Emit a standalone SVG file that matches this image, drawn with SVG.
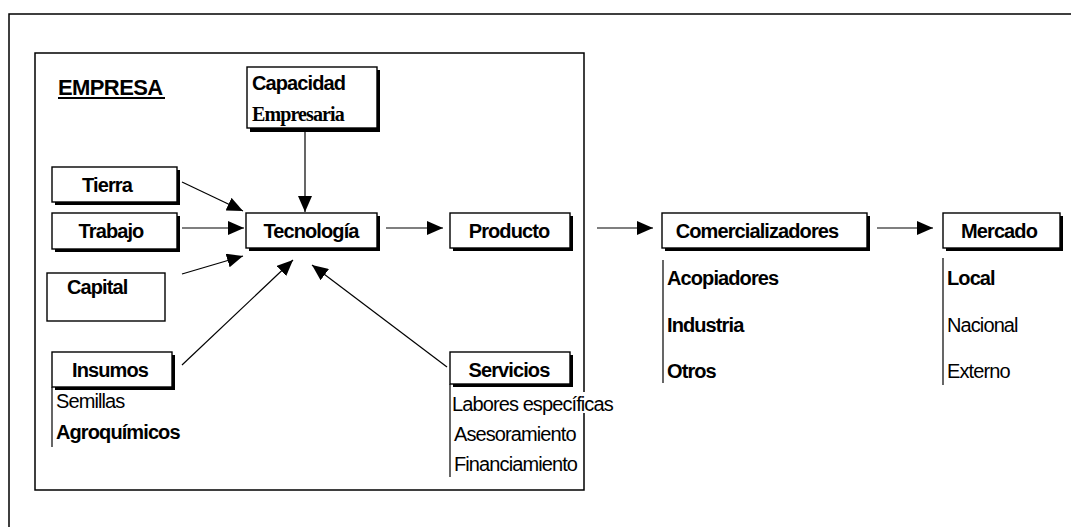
<svg xmlns="http://www.w3.org/2000/svg" width="1071" height="527" viewBox="0 0 1071 527">
<style>
.frame{fill:none;stroke:#000;stroke-width:1.5}
.box{fill:#fff;stroke:#000;stroke-width:1.4}
.sh{fill:#000}
.ln{fill:none;stroke:#000;stroke-width:1.2}
.t{font-family:"Liberation Sans",Arial,sans-serif;font-size:20px;font-weight:bold;letter-spacing:-0.9px;fill:#000}
.r{font-family:"Liberation Sans",Arial,sans-serif;font-size:20px;letter-spacing:-0.9px;fill:#000}
.s{font-family:"Liberation Serif","Times New Roman",serif;font-size:20px;font-weight:bold;letter-spacing:-0.9px;fill:#000}
.c{text-anchor:middle}
</style>
<defs>
<marker id="ah" viewBox="0 0 16 14" refX="16" refY="7" markerWidth="16" markerHeight="14" markerUnits="userSpaceOnUse" orient="auto">
<path d="M0,0 L16,7 L0,14 Z" fill="#000"/>
</marker>
</defs>
<rect width="1071" height="527" fill="#fff"/>
<g id="frame">
<path class="frame" d="M1071,14 H9 V527"/>
</g>
<g id="empresa">
<path class="frame" d="M584,392 V53 H35 V490 H584 V413" stroke-width="2"/>
<text class="t" x="58" y="95" style="font-size:22px;letter-spacing:-0.6px">EMPRESA</text>
<line x1="58" y1="98" x2="165" y2="98" stroke="#000" stroke-width="1.8"/>
</g>
<g id="connectors">
<line class="ln" x1="305" y1="132" x2="305" y2="212" marker-end="url(#ah)"/>
<line class="ln" x1="182" y1="182" x2="243" y2="211" marker-end="url(#ah)"/>
<line class="ln" x1="182" y1="228" x2="244" y2="228" marker-end="url(#ah)"/>
<line class="ln" x1="182" y1="274" x2="243" y2="256" marker-end="url(#ah)"/>
<line class="ln" x1="182" y1="365" x2="293" y2="260" marker-end="url(#ah)"/>
<line class="ln" x1="447" y1="367" x2="312" y2="265" marker-end="url(#ah)"/>
<line class="ln" x1="386" y1="228" x2="443" y2="228" marker-end="url(#ah)"/>
<line class="ln" x1="597" y1="228" x2="653" y2="228" marker-end="url(#ah)"/>
<line class="ln" x1="877" y1="228" x2="933" y2="228" marker-end="url(#ah)"/>
</g>
<g id="capacidad">
<rect class="sh" x="250" y="70" width="130" height="62"/>
<rect class="box" x="247" y="67" width="130" height="61"/>
<text class="t" x="252" y="90">Capacidad</text>
<text class="s" x="252" y="121">Empresaria</text>
</g>
<g id="tierra">
<rect class="sh" x="55" y="170" width="125" height="35"/>
<rect class="box" x="52" y="167" width="125" height="35"/>
<text class="t c" x="107" y="192">Tierra</text>
</g>
<g id="trabajo">
<rect class="sh" x="55" y="216" width="125" height="36"/>
<rect class="box" x="52" y="213" width="125" height="36"/>
<text class="t c" x="111" y="238">Trabajo</text>
</g>
<g id="capital">
<rect class="box" x="47" y="273" width="118" height="48"/>
<text class="t" x="67" y="294">Capital</text>
</g>
<g id="tecnologia">
<rect class="sh" x="249" y="216" width="131" height="35"/>
<rect class="box" x="246" y="213" width="131" height="35"/>
<text class="t c" x="311" y="238">Tecnología</text>
</g>
<g id="insumos">
<rect class="sh" x="55" y="355" width="120" height="35"/>
<rect class="box" x="52" y="352" width="120" height="35"/>
<text class="t c" x="110" y="377">Insumos</text>
<line class="ln" x1="52" y1="387" x2="52" y2="447"/>
<text class="r" x="56" y="408">Semillas</text>
<text class="t" x="56" y="439">Agroquímicos</text>
</g>
<g id="servicios">
<rect class="sh" x="453" y="355" width="120" height="32"/>
<rect class="box" x="450" y="352" width="120" height="32"/>
<text class="t c" x="509" y="377">Servicios</text>
<line class="ln" x1="450" y1="384" x2="450" y2="477"/>
<text class="r" x="452" y="411">Labores específicas</text>
<text class="r" x="454" y="441">Asesoramiento</text>
<text class="r" x="454" y="471">Financiamiento</text>
</g>
<g id="producto">
<rect class="sh" x="453" y="216" width="120" height="35"/>
<rect class="box" x="450" y="213" width="120" height="35"/>
<text class="t c" x="509" y="238">Producto</text>
</g>
<g id="comercializadores">
<rect class="sh" x="665" y="216" width="205" height="35"/>
<rect class="box" x="662" y="213" width="205" height="35"/>
<text class="t c" x="757" y="238">Comercializadores</text>
<line class="ln" x1="663" y1="260" x2="663" y2="383"/>
<text class="t" x="667" y="285">Acopiadores</text>
<text class="t" x="667" y="332">Industria</text>
<text class="t" x="667" y="378">Otros</text>
</g>
<g id="mercado">
<rect class="sh" x="946" y="216" width="117" height="35"/>
<rect class="box" x="943" y="213" width="117" height="35"/>
<text class="t c" x="999" y="238">Mercado</text>
<line class="ln" x1="943" y1="258" x2="943" y2="385"/>
<text class="t" x="947" y="285">Local</text>
<text class="r" x="947" y="332">Nacional</text>
<text class="r" x="947" y="378">Externo</text>
</g>
</svg>
